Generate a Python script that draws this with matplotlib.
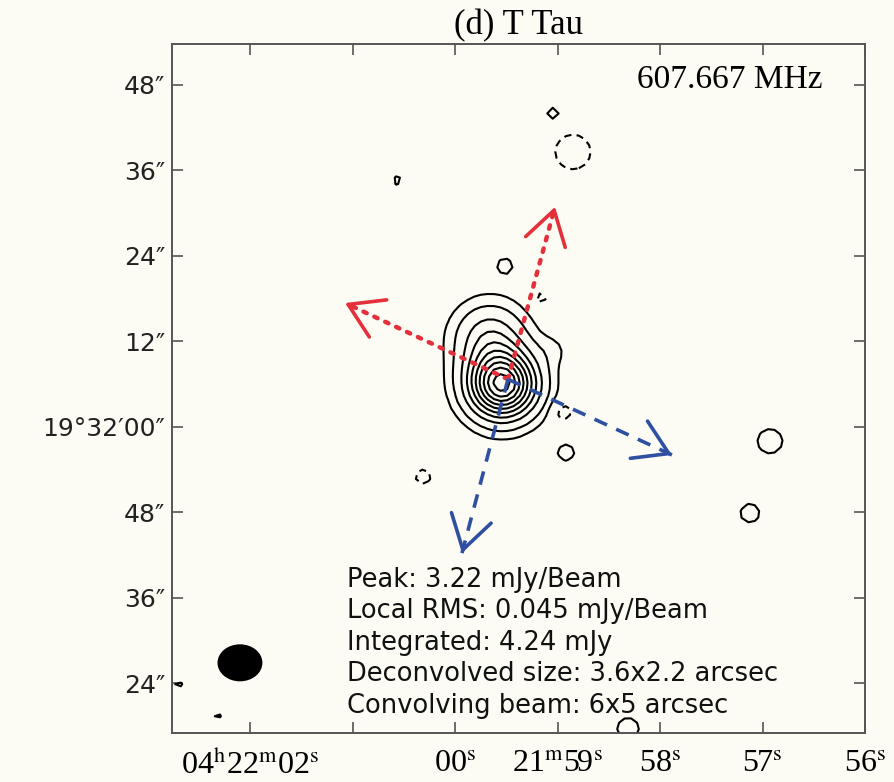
import numpy as np
import matplotlib

matplotlib.use("Agg")

import matplotlib.pyplot as plt
from matplotlib.patches import Ellipse

# x: RA seconds past 04h21m, y: Dec offset (arcsec) from +19d32'00"
ARCSEC_PER_SEC = 14.138
PIXEL_ARCSEC = 0.9

# main source, built from a few gaussian components (mJy/beam, arcsec)
src_ra = [59.541, 59.66, 59.044]
src_dec = [6.0, 12.5, 10.8]
src_amp = [3.0, 0.85, 0.13]
src_sigma = [3.1, 3.2, 1.6]

# weak noise peaks / dips around the field
blob_ra = [59.044, 60.556, 59.512, 59.161, 58.946, 58.917, 60.312, 58.849, 56.927, 57.122, 58.312, 62.32, 62.70]
blob_dec = [44.0, 34.6, 22.6, 18.1, 2.1, -3.6, -7.0, 38.6, -2.0, -12.1, -42.3, -40.4, -36.2]
blob_amp = [0.21, 0.18, 0.21, -0.2, -0.24, 0.21, -0.21, -0.28, 0.24, 0.21, 0.22, 0.2, 0.2]
blob_sigma = [0.9, 0.85, 1.1, 0.9, 1.1, 1.2, 1.1, 2.0, 1.6, 1.4, 1.5, 0.6, 0.6]

contour_levels = [-0.135, 0.135, 0.322, 0.644, 0.966, 1.288, 1.610, 1.932, 2.254, 2.576, 2.898]

beam_ra, beam_dec = 62.098, -33.1
beam_major, beam_minor = 6.0, 5.0  # arcsec

arrow_origin = (59.483, 6.7)
red_tip_ra = [59.024, 61.073]
red_tip_dec = [30.9, 17.4]
blue_tip_ra = [57.883, 59.932]
blue_tip_dec = [-3.93, -17.7]

xtick_pos = [62, 61, 60, 59, 58, 57, 56]
xtick_labels = [r"04$^{\rm h}$22$^{\rm m}$02$^{\rm s}$", "", r"00$^{\rm s}$",
                r"21$^{\rm m}$59$^{\rm s}$", r"58$^{\rm s}$", r"57$^{\rm s}$", r"56$^{\rm s}$"]
ytick_pos = [48, 36, 24, 12, 0, -12, -24, -36]
ytick_labels = ["48\u2033", "36\u2033", "24\u2033", "12\u2033", "19\u00b032\u203200\u2033",
                "48\u2033", "36\u2033", "24\u2033"]

info_lines = [
    "Peak: 3.22 mJy/Beam",
    "Local RMS: 0.045 mJy/Beam",
    "Integrated: 4.24 mJy",
    "Deconvolved size: 3.6x2.2 arcsec",
    "Convolving beam: 6x5 arcsec",
]

plt.rcParams["mathtext.fontset"] = "stix"
BG = "#fcfcf5"
RED = "#e3303a"
BLUE = "#2f50a0"


def model_image(ra_grid, dec_grid):
    img = np.zeros_like(ra_grid)
    comps = zip(src_ra + blob_ra, src_dec + blob_dec, src_amp + blob_amp, src_sigma + blob_sigma)
    for ra0, dec0, amp, sig in comps:
        dx = (ra_grid - ra0) * ARCSEC_PER_SEC
        dy = dec_grid - dec0
        img += amp * np.exp(-(dx**2 + dy**2) / (2 * sig**2))
    return img


fig = plt.figure(figsize=(8.95, 7.82), dpi=100, facecolor=BG)
ax = fig.add_axes([172 / 895, 1 - 733 / 782, 693 / 895, 689 / 782], facecolor=BG)

# sample on a map-like pixel grid so contours keep a slightly polygonal look
ra = np.arange(55.8, 63.0, PIXEL_ARCSEC / ARCSEC_PER_SEC)
dec = np.arange(-46.0, 56.0, PIXEL_ARCSEC)
RA, DEC = np.meshgrid(ra, dec)
img = model_image(RA, DEC)
styles = [(0, (3.5, 2.5)) if lev < 0 else "solid" for lev in contour_levels]
ax.contour(RA, DEC, img, levels=contour_levels, colors="black", linewidths=1.5,
           linestyles=styles)

ax.add_patch(Ellipse((beam_ra, beam_dec), beam_major / ARCSEC_PER_SEC, beam_minor,
                     facecolor="black", edgecolor="black"))

ox, oy = arrow_origin
head = "->,head_length=0.95,head_width=0.59"
for tx, ty in zip(red_tip_ra, red_tip_dec):
    ax.plot([ox, tx], [oy, ty], color=RED, lw=3.2, linestyle=(0, (0.8, 1.9)), dash_capstyle="round")
    ax.annotate("", xy=(tx, ty), xytext=(ox + 0.97 * (tx - ox), oy + 0.97 * (ty - oy)),
                arrowprops=dict(arrowstyle=head, color=RED, lw=2.6, shrinkA=0, shrinkB=0,
                                mutation_scale=25))
for tx, ty in zip(blue_tip_ra, blue_tip_dec):
    ax.plot([ox, tx], [oy, ty], color=BLUE, lw=2.6, linestyle=(0, (3.8, 2.8)))
    ax.annotate("", xy=(tx, ty), xytext=(ox + 0.97 * (tx - ox), oy + 0.97 * (ty - oy)),
                arrowprops=dict(arrowstyle=head, color=BLUE, lw=2.6, shrinkA=0, shrinkB=0,
                                mutation_scale=25))

ax.set_xlim(62.761, 56.0)
ax.set_ylim(-42.95, 53.75)

ax.set_xticks(xtick_pos)
ax.set_xticklabels(xtick_labels, fontfamily="Liberation Serif", fontsize=23)
ax.set_yticks(ytick_pos)
ax.set_yticklabels(ytick_labels, fontfamily="DejaVu Sans", fontsize=18, color="#222222")
ax.tick_params(direction="in", length=8, width=1.2, color="#555555",
               top=True, right=True)
ax.tick_params(axis="x", pad=12)
ax.tick_params(axis="y", pad=5)
for spine in ax.spines.values():
    spine.set_color("#555555")
    spine.set_linewidth(1.4)

ax.set_title("(d) T Tau", fontfamily="Liberation Serif", fontsize=25, pad=7)
ax.text(0.938, 0.936, "607.667 MHz", transform=ax.transAxes, ha="right", va="baseline",
        fontfamily="Liberation Serif", fontsize=24)

for i, line in enumerate(info_lines):
    ax.text(0.2525, 0.2119 - i * 0.0456, line, transform=ax.transAxes, ha="left",
            va="baseline", fontfamily="DejaVu Sans", fontsize=18.5, color="#111111")

fig.savefig("out.png", dpi=100, facecolor=BG)
